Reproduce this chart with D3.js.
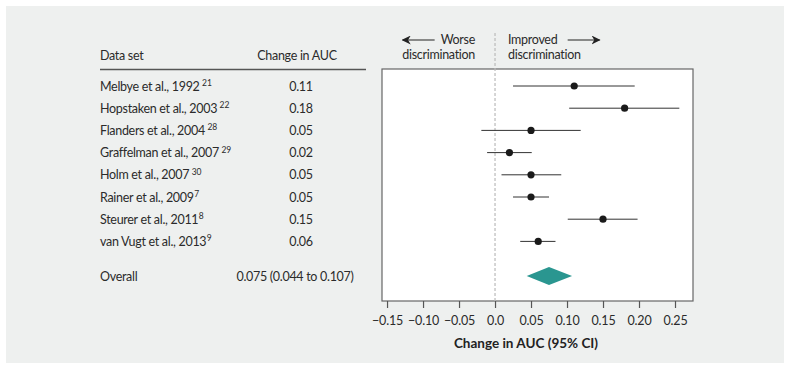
<!DOCTYPE html>
<html>
<head>
<meta charset="utf-8">
<script src="https://cdn.jsdelivr.net/npm/d3@7"></script>
<style>
  body { margin: 0; background: #fff; }
  svg { display: block; font-family: Lato, "Open Sans", sans-serif; }
  .lbl { font-size: 12.5px; letter-spacing: -0.3px; fill: #2b2b2b; }
</style>
</head>
<body>
<svg id="chart" width="790" height="370"></svg>
<script>
const studies = ['Melbye et al., 1992', 'Hopstaken et al., 2003', 'Flanders et al., 2004', 'Graffelman et al., 2007',
  'Holm et al., 2007', 'Rainer et al., 2009', 'Steurer et al., 2011', 'van Vugt et al., 2013'];
const refs = ['21', '22', '28', '29', '30', '7', '8', '9'];
const estimates = [0.11, 0.18, 0.05, 0.02, 0.05, 0.05, 0.15, 0.06];
const lowerCI = [0.025, 0.103, -0.019, -0.011, 0.009, 0.025, 0.101, 0.035];
const upperCI = [0.194, 0.256, 0.119, 0.051, 0.092, 0.075, 0.198, 0.084];
const overall = { label: 'Overall', est: 0.075, lo: 0.044, hi: 0.107 };
const tickValues = [-0.15, -0.10, -0.05, 0.0, 0.05, 0.10, 0.15, 0.20, 0.25];
const tickLabels = ['\u22120.15', '\u22120.10', '\u22120.05', '0.0', '0.05', '0.10', '0.15', '0.20', '0.25'];

const svg = d3.select('#chart');
const textColor = '#2b2b2b';

svg.append('rect')
  .attr('x', 6).attr('y', 6)
  .attr('width', 778).attr('height', 357)
  .attr('fill', '#eef0ef');

const box = { left: 382, right: 693, top: 69, bottom: 301 };
const x = d3.scaleLinear().domain([-0.157, 0.275]).range([box.left, box.right]);
const y = d3.scalePoint().domain(studies).range([86, 241.4]);
const yOverall = 276;

// table header
svg.append('text').attr('class', 'lbl').attr('x', 100).attr('y', 60).text('Data set');
svg.append('text').attr('class', 'lbl').attr('x', 297).attr('y', 60).attr('text-anchor', 'middle').text('Change in AUC');
svg.append('line').attr('x1', 100).attr('x2', 366).attr('y1', 69.5).attr('y2', 69.5)
  .attr('stroke', '#555').attr('stroke-width', 1.3);

const rows = studies.map((s, i) => ({ name: s, ref: refs[i], est: estimates[i], lo: lowerCI[i], hi: upperCI[i] }));

const label = svg.selectAll('.study-label')
  .data(rows)
  .enter()
  .append('text')
  .attr('class', 'study-label lbl')
  .attr('x', 100)
  .attr('y', d => y(d.name) + 4.5);
label.append('tspan').text(d => d.name);
label.append('tspan')
  .attr('dy', -4.5)
  .attr('dx', d => d.ref.length > 1 ? 2.5 : 0.5)
  .style('font-size', '8.5px')
  .style('letter-spacing', '0px')
  .text(d => d.ref);

svg.selectAll('.study-value')
  .data(rows)
  .enter()
  .append('text')
  .attr('class', 'study-value lbl')
  .attr('x', 301)
  .attr('y', d => y(d.name) + 4.5)
  .attr('text-anchor', 'middle')
  .text(d => d3.format('.2f')(d.est));

svg.append('text').attr('class', 'lbl').attr('x', 100).attr('y', yOverall + 4.5).text(overall.label);
svg.append('text').attr('class', 'lbl').attr('x', 295).attr('y', yOverall + 4.5).attr('text-anchor', 'middle')
  .text(`${d3.format('.3f')(overall.est)} (${d3.format('.3f')(overall.lo)} to ${d3.format('.3f')(overall.hi)})`);

// plot box
svg.append('rect')
  .attr('x', box.left).attr('y', box.top)
  .attr('width', box.right - box.left).attr('height', box.bottom - box.top)
  .attr('fill', '#fff').attr('stroke', '#666').attr('stroke-width', 1.2);

// zero line
svg.append('line')
  .attr('x1', x(0)).attr('x2', x(0))
  .attr('y1', 33).attr('y2', box.bottom)
  .attr('stroke', '#bbb').attr('stroke-width', 1.2)
  .attr('stroke-dasharray', '3,2');

// direction labels
const defs = svg.append('defs');
defs.append('marker')
  .attr('id', 'arrowhead')
  .attr('viewBox', '0 0 10 10')
  .attr('refX', 9).attr('refY', 5)
  .attr('markerWidth', 9).attr('markerHeight', 9)
  .attr('markerUnits', 'userSpaceOnUse')
  .attr('orient', 'auto')
  .append('path')
  .attr('d', 'M0,0 L10,5 L0,10 L3,5 Z')
  .attr('fill', '#222');

const worse = svg.append('text').attr('class', 'lbl').attr('x', 475).attr('y', 44).attr('text-anchor', 'end').text('Worse');
svg.append('text').attr('class', 'lbl').attr('x', 475).attr('y', 59).attr('text-anchor', 'end').text('discrimination');
const improved = svg.append('text').attr('class', 'lbl').attr('x', 508).attr('y', 44).text('Improved');
svg.append('text').attr('class', 'lbl').attr('x', 508).attr('y', 59).text('discrimination');

// arrows sit a few px clear of their words
const wb = worse.node().getBBox();
const ib = improved.node().getBBox();
svg.append('line').attr('x1', wb.x - 6).attr('x2', wb.x - 38).attr('y1', 40).attr('y2', 40)
  .attr('stroke', '#222').attr('stroke-width', 1.2).attr('marker-end', 'url(#arrowhead)');
svg.append('line').attr('x1', ib.x + ib.width + 10).attr('x2', ib.x + ib.width + 42).attr('y1', 40).attr('y2', 40)
  .attr('stroke', '#222').attr('stroke-width', 1.2).attr('marker-end', 'url(#arrowhead)');

// CIs and points
svg.selectAll('.ci')
  .data(rows)
  .enter()
  .append('line')
  .attr('class', 'ci')
  .attr('x1', d => x(d.lo)).attr('x2', d => x(d.hi))
  .attr('y1', d => y(d.name)).attr('y2', d => y(d.name))
  .attr('stroke', '#333').attr('stroke-width', 1);

svg.selectAll('.pt')
  .data(rows)
  .enter()
  .append('circle')
  .attr('class', 'pt')
  .attr('cx', d => x(d.est)).attr('cy', d => y(d.name))
  .attr('r', 3.6)
  .attr('fill', '#1a1a1a');

// overall diamond
svg.append('path')
  .attr('d', `M${x(overall.lo)},${yOverall} L${x(overall.est)},${yOverall - 9} L${x(overall.hi)},${yOverall} L${x(overall.est)},${yOverall + 9} Z`)
  .attr('fill', '#2a9690');

// axis
const axis = d3.axisBottom(x)
  .tickValues(tickValues)
  .tickFormat((d, i) => tickLabels[i])
  .tickSize(7)
  .tickPadding(8);

const gx = svg.append('g')
  .attr('transform', `translate(0,${box.bottom})`)
  .call(axis);
gx.select('.domain').remove();
gx.selectAll('.tick line').attr('stroke', '#555').attr('stroke-width', 1.2);
gx.selectAll('.tick text')
  .style('font-family', 'Lato, "Open Sans", sans-serif')
  .style('font-size', '12.5px')
  .style('letter-spacing', '-0.2px')
  .style('fill', textColor);

svg.append('text')
  .attr('x', 526).attr('y', 348)
  .attr('text-anchor', 'middle')
  .style('font-size', '13.5px')
  .style('font-weight', 'bold')
  .style('fill', '#222')
  .text('Change in AUC (95% CI)');
</script>
</body>
</html>
